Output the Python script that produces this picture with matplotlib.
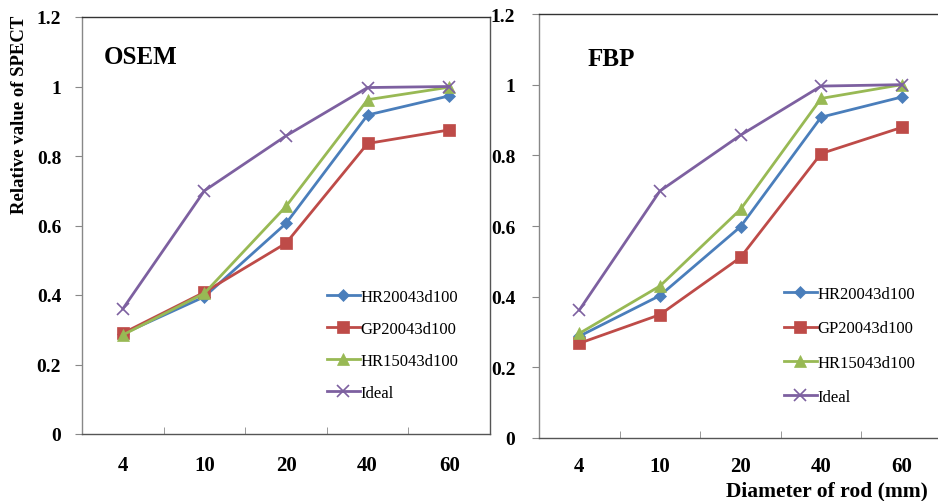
import numpy as np
import matplotlib
matplotlib.use("Agg")
import matplotlib.pyplot as plt

plt.rcParams['font.family'] = ['Liberation Serif', 'DejaVu Serif']

# Data
categories = ['4', '10', '20', '40', '60']
series_names = ['HR20043d100', 'GP20043d100', 'HR15043d100', 'Ideal']

osem_hr200 = [0.288, 0.395, 0.606, 0.918, 0.973]
osem_gp200 = [0.290, 0.408, 0.549, 0.836, 0.875]
osem_hr150 = [0.285, 0.405, 0.655, 0.962, 0.998]
osem_ideal = [0.360, 0.700, 0.858, 0.997, 1.000]

fbp_hr200 = [0.288, 0.403, 0.598, 0.908, 0.965]
fbp_gp200 = [0.268, 0.349, 0.511, 0.805, 0.879]
fbp_hr150 = [0.296, 0.430, 0.647, 0.961, 1.000]
fbp_ideal = [0.362, 0.699, 0.857, 0.996, 1.000]

yticks = [0, 0.2, 0.4, 0.6, 0.8, 1.0, 1.2]
ytick_labels = ['0', '0.2', '0.4', '0.6', '0.8', '1', '1.2']

colors = ['#4a7ebb', '#be4b48', '#98b954', '#7d60a0']
markers = ['D', 's', '^', 'x']
msizes = [6, 8, 8, 8]

W, H = 938, 502
fig = plt.figure(figsize=(W / 100, H / 100), dpi=100)


def px_axes(left, top, right, bottom):
    return fig.add_axes([left / W, 1 - bottom / H, (right - left) / W, (bottom - top) / H])


def draw_panel(ax, data, title, title_xy, leg_anchor, leg_spacing, ypad, xpad):
    x = np.arange(len(categories))
    for vals, name, c, m, ms in zip(data, series_names, colors, markers, msizes):
        ax.plot(x, vals, color=c, marker=m, markersize=ms, linewidth=2.0,
                markeredgewidth=1.2 if m == 'x' else 0.5, label=name)
    ax.set_xlim(-0.5, len(categories) - 0.5)
    ax.set_ylim(0, 1.2)
    ax.set_xticks(x)
    ax.set_xticklabels(categories, fontsize=15, fontweight='bold')
    ax.set_xticks(np.arange(0.5, len(categories) - 1, 1.0), minor=True)
    ax.tick_params(axis='x', which='major', length=0, pad=xpad)
    ax.tick_params(axis='x', which='minor', direction='in', length=5, color='#888888')
    ax.set_yticks(yticks)
    ax.set_yticklabels(ytick_labels, fontsize=14, fontweight='bold')
    ax.tick_params(axis='y', direction='out', length=5, color='#888888', pad=ypad)
    ax.spines['left'].set_color('#888888')
    ax.spines['bottom'].set_color('#555555')
    ax.spines['top'].set_color('#333333')
    ax.spines['right'].set_color('#555555')
    for s in ax.spines.values():
        s.set_linewidth(1.0)
    ax.text(title_xy[0], title_xy[1], title, transform=fig.transFigure,
            fontsize=18, fontweight='bold', va='center', ha='left')
    leg = ax.legend(loc='upper left', bbox_to_anchor=leg_anchor,
                    bbox_transform=fig.transFigure, frameon=False,
                    fontsize=12, handlelength=1.95, handletextpad=0.05,
                    labelspacing=leg_spacing, borderaxespad=0, borderpad=0)
    return leg


ax1 = px_axes(82, 18, 490, 435)
draw_panel(ax1, [osem_hr200, osem_gp200, osem_hr150, osem_ideal], 'OSEM',
           (104 / W, 1 - 58 / H), (327 / W, 1 - 290 / H), 0.95, 10, 15)

ax2 = px_axes(539, 15, 942, 439)
draw_panel(ax2, [fbp_hr200, fbp_gp200, fbp_hr150, fbp_ideal], 'FBP',
           (588 / W, 1 - 59 / H), (784 / W, 1 - 287 / H), 1.1, 12, 13)

fig.text(20 / W, 1 - 115 / H, 'Relative value of SPECT', rotation=90,
         fontsize=13.5, fontweight='bold', ha='center', va='center')
fig.text(827 / W, 1 - 491 / H, 'Diameter of rod (mm)',
         fontsize=15.5, fontweight='bold', ha='center', va='center')

fig.savefig('out.png', dpi=100)
